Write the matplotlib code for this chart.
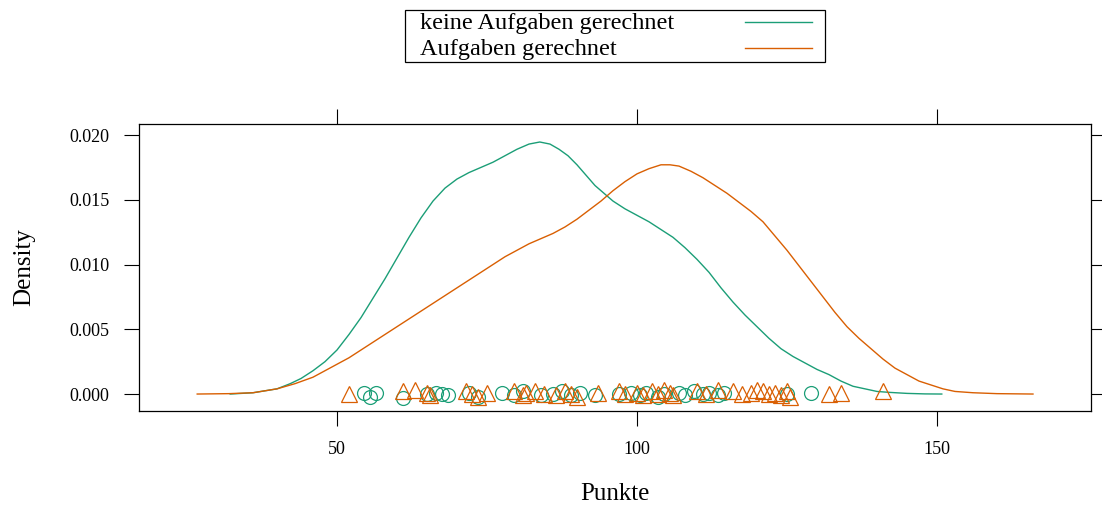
"""Kernel density of test points, with and without solved exercises."""

import matplotlib

matplotlib.use("Agg")
import matplotlib.pyplot as plt
from matplotlib.lines import Line2D
from matplotlib.patches import Rectangle

plt.rcParams["font.family"] = ["Liberation Serif", "DejaVu Serif"]

groups = ["keine Aufgaben gerechnet", "Aufgaben gerechnet"]
colors = ["#1B9E77", "#D95F02"]

# density curve: keine Aufgaben gerechnet
dens_keine_x = [32.2, 36, 40, 42.2, 44, 46, 48, 50, 52, 54, 56, 58, 60, 62, 64, 66, 68, 70,
                72, 74, 76, 78, 80, 82, 83.8, 85.5, 87, 88.5, 90, 91.5, 93, 94.5, 96, 98,
                100, 102, 104, 106, 108, 110, 112, 114, 116, 118, 120, 122, 124, 126, 128,
                130, 132, 134, 136, 138, 140, 142, 145, 148, 150.8]
dens_keine_y = [0.0, 0.0001, 0.0004, 0.0008, 0.0012, 0.0018, 0.0025, 0.0034, 0.0046, 0.0059,
                0.0074, 0.0089, 0.0105, 0.0121, 0.0136, 0.0149, 0.0159, 0.0166, 0.0171,
                0.0175, 0.0179, 0.0184, 0.0189, 0.0193, 0.01946, 0.0193, 0.0189, 0.0184,
                0.0177, 0.0169, 0.0161, 0.0155, 0.0149, 0.0143, 0.0138, 0.0133, 0.0127,
                0.0121, 0.0113, 0.0104, 0.0094, 0.0082, 0.0071, 0.0061, 0.0052, 0.0043,
                0.0035, 0.0029, 0.0024, 0.0019, 0.0015, 0.0010, 0.0006, 0.0004, 0.0002,
                0.00013, 0.00005, 0.00001, 0.0]

# density curve: Aufgaben gerechnet
dens_auf_x = [26.7, 32, 36, 40, 43, 46, 48, 50, 52, 54, 56, 58, 60, 62, 64, 66, 68, 70, 72,
              74, 76, 78, 80, 82, 84, 86, 88, 90, 92, 94, 96, 98, 100, 102, 104, 105.5, 107,
              109, 111, 113, 115, 117, 119, 121, 123, 125, 127, 129, 131, 133, 135, 137, 139,
              141, 143, 145, 147, 149, 151, 153, 156, 160, 166]
dens_auf_y = [0.0, 0.00003, 0.0001, 0.0004, 0.0008, 0.0013, 0.0018, 0.0023, 0.0028, 0.0034,
              0.0040, 0.0046, 0.0052, 0.0058, 0.0064, 0.0070, 0.0076, 0.0082, 0.0088, 0.0094,
              0.0100, 0.0106, 0.0111, 0.0116, 0.0120, 0.0124, 0.0129, 0.0135, 0.0142, 0.0149,
              0.0157, 0.0164, 0.0170, 0.0174, 0.0177, 0.0177, 0.0176, 0.0172, 0.0167, 0.0161,
              0.0155, 0.0148, 0.0141, 0.0133, 0.0122, 0.0111, 0.0099, 0.0087, 0.0075, 0.0063,
              0.0052, 0.0043, 0.0035, 0.0027, 0.0020, 0.0015, 0.0010, 0.0007, 0.0004, 0.0002,
              0.0001, 0.00003, 0.0]

# raw points (jittered around zero)
pts_keine_x = [54.5, 55.5, 56.5, 61, 65, 66.5, 67.5, 68.5, 72, 73.5, 77.5, 79.5, 81, 84, 86,
               87.5, 89, 90.5, 93, 97, 99, 100.5, 101.5, 103.5, 104.5, 107, 108, 109.5, 111,
               112, 113.5, 114.5, 125, 129]
pts_keine_y = [0.0001, -0.0002, 0.0001, -0.0003, 0.0, 0.0001, 0.0, -0.0001, 0.0001, -0.0002,
               0.0001, -0.0001, 0.0002, -0.0001, 0.0, 0.0002, -0.0001, 0.0001, -0.0001, 0.0,
               0.0001, -0.0001, 0.0001, -0.0002, 0.0, 0.0001, -0.0001, 0.0002, 0.0, 0.0001,
               -0.0001, 0.0001, 0.0, 0.0001]
pts_auf_x = [52, 61, 63, 65, 65.5, 71.5, 72.5, 73.5, 75, 79.5, 81, 81.5, 83, 84.5, 86.5, 88,
             89, 90, 93.5, 97, 98, 100, 101, 102.5, 103.5, 104.5, 105.5, 106, 110, 111.5,
             113.5, 116, 117.5, 119, 120, 121, 122, 123, 124, 125, 125.5, 132, 134, 141]
pts_auf_y = [0.0, 0.0002, 0.0003, 0.0001, -0.0001, 0.0002, 0.0, -0.0002, 0.0001, 0.0002,
             -0.0001, 0.0001, 0.0002, 0.0, -0.0001, 0.0002, 0.0, -0.0002, 0.0001, 0.0002,
             0.0, 0.0001, -0.0001, 0.0002, 0.0, 0.0003, 0.0001, -0.0001, 0.0002, 0.0,
             0.0003, 0.0002, 0.0, 0.0001, 0.0003, 0.0002, 0.0, 0.0001, -0.0001, 0.0002,
             -0.0002, 0.0, 0.0001, 0.0002]

fig = plt.figure(figsize=(11.02, 5.08), dpi=100)
ax = fig.add_axes([139 / 1102, 97 / 508, 952 / 1102, 287 / 508])

ax.plot(dens_keine_x, dens_keine_y, color=colors[0], lw=1.0)
ax.plot(dens_auf_x, dens_auf_y, color=colors[1], lw=1.0)
ax.plot(pts_keine_x, pts_keine_y, ls="none", marker="o", ms=10, mfc="none",
        mec=colors[0], mew=0.9)
ax.plot(pts_auf_x, pts_auf_y, ls="none", marker="^", ms=11, mfc="none",
        mec=colors[1], mew=0.9)

ax.set_xlim(17, 175.67)
ax.set_ylim(-0.00131, 0.02085)
ax.set_xticks([50, 100, 150])
ax.set_yticks([0.0, 0.005, 0.010, 0.015, 0.020])
ax.set_yticklabels(["0.000", "0.005", "0.010", "0.015", "0.020"])
ax.tick_params(axis="both", direction="out", length=10.5, width=0.8, labelsize=13,
               pad=11, top=True, right=True, labeltop=False, labelright=False)
for spine in ax.spines.values():
    spine.set_linewidth(0.9)

ax.set_xlabel("Punkte", fontsize=18, labelpad=18)
ax.set_ylabel("Density", fontsize=18, labelpad=24)

# key box above the panel
box_l, box_r, box_t, box_b = 405, 825, 10, 62
fig.patches.append(Rectangle((box_l / 1102, 1 - box_b / 508), (box_r - box_l) / 1102,
                             (box_b - box_t) / 508, transform=fig.transFigure,
                             fill=False, edgecolor="black", linewidth=0.9))
for i, (label, col) in enumerate(zip(groups, colors)):
    yy = 1 - (24 + 26 * i) / 508
    fig.text(420 / 1102, yy, label, fontsize=17.5, ha="left", va="center")
    fig.lines.append(Line2D([745 / 1102, 812 / 1102], [yy + 2 / 508, yy + 2 / 508],
                            transform=fig.transFigure, color=col, lw=1.0))

fig.savefig("out.png", dpi=100)
